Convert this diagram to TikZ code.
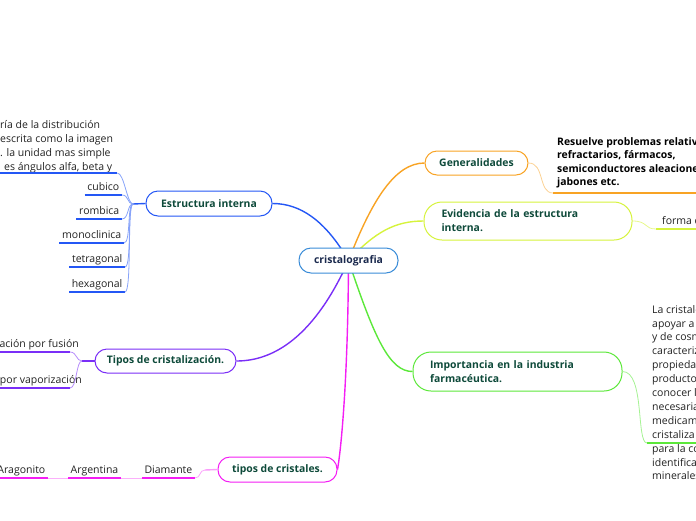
\documentclass[tikz,border=0pt]{standalone}
\usepackage{fontspec}
\setmainfont{Open Sans}
\usetikzlibrary{backgrounds}
\definecolor{tgreen}{HTML}{0E4A3A}
\definecolor{tnavy}{HTML}{1B2A4E}
\definecolor{cC}{HTML}{3A8CD8}
\definecolor{cE}{HTML}{2457F5}
\definecolor{cG}{HTML}{F8A324}
\definecolor{cV}{HTML}{D6F33C}
\definecolor{cI}{HTML}{5CE83A}
\definecolor{cT}{HTML}{7A2EF7}
\definecolor{cK}{HTML}{F41EF4}
\definecolor{leaftext}{HTML}{222222}
\tikzset{
 topic/.style={draw, line width=1pt, rounded corners=12pt, fill=white, text=tgreen,
   font=\bfseries\fontsize{10.4}{14}\selectfont, inner sep=0pt},
 branch/.style={line width=1.4pt},
 twig/.style={line width=0.8pt},
 uline/.style={line width=1.4pt},
 leaf/.style={font=\fontsize{10.5}{14}\selectfont, text=leaftext, inner xsep=2.5pt,
   inner ysep=4pt, text depth=0pt, anchor=south east},
 para/.style={font=\fontsize{10.5}{14}\selectfont, text=leaftext, inner sep=0pt, align=left},
}
\begin{document}
\begin{tikzpicture}[x=1pt,y=-1pt]
\useasboundingbox (0,0) rectangle (696,520);
\clip (0,0) rectangle (696,520);

% ---- topics
\node[topic, draw=cC, text=tnavy, minimum width=99pt, minimum height=25pt] (c) at (348.5,260.5) {cristalografia};
\node[topic, draw=cE, minimum width=126pt, minimum height=25pt] (e) at (209,203.5) {Estructura interna};
\node[topic, draw=cG, minimum width=103pt, minimum height=24pt] (g) at (476.5,163) {Generalidades};
\node[topic, draw=cV, rounded corners=18pt, text width=173pt, align=left, inner xsep=17.5pt, minimum height=38pt] (v) at (528,221) {Evidencia de la estructura\\interna.};
\node[topic, draw=cI, rounded corners=18pt, text width=175pt, align=left, inner xsep=17pt, minimum height=39pt] (i) at (517.5,371.5) {Importancia en la industria\\farmacéutica.};
\node[topic, draw=cT, minimum width=141pt, minimum height=24pt] (t) at (165.5,361) {Tipos de cristalización.};
\node[topic, draw=cK, minimum width=119pt, minimum height=25pt] (k) at (277.5,469.5) {tipos de cristales.};

% ---- main branches
\begin{scope}[on background layer]
\draw[branch, cE] (c.center) .. controls (325,220) and (300,203.5) .. (e.east);
\draw[branch, cG] (c.center) .. controls (372,200) and (395,163) .. (g.west);
\draw[branch, cV] (c.center) .. controls (375,232) and (395,221) .. (v.west);
\draw[branch, cI] (c.center) .. controls (375,340) and (390,371.5) .. (i.west);
\draw[branch, cT] (c.center) .. controls (315,335) and (275,361) .. (t.east);
\draw[branch, cK] (c.center) .. controls (348,380) and (341,450) .. (k.east);
\end{scope}

% ---- Estructura interna children
\coordinate (je) at (133,204);
\draw[uline, cE] (e.west) -- (je);
\node[para, anchor=south west, inner xsep=4pt] (e0) at (-4,173)
  {ría de la distribución\\escrita como la imagen\\. la unidad mas simple\\\hspace{4pt}es ángulos alfa, beta y};
\node[leaf] (e1) at (122,195) {cubico};
\node[leaf] (e2) at (122,219) {rombica};
\node[leaf] (e3) at (124,243) {monoclinica};
\node[leaf] (e4) at (125,267) {tetragonal};
\node[leaf] (e5) at (125,292) {hexagonal};
\foreach \n in {e0,e1,e2,e3,e4,e5}{
  \draw[uline, cE] (\n.south west) -- (\n.south east);
  \draw[twig, cE!55] (\n.south east) .. controls +(7,0) and +(-6,0) .. (je);
}

% ---- Tipos de cristalización children
\coordinate (jt) at (82,361);
\draw[uline, cT] (t.west) -- (jt);
\node[leaf, anchor=base east, inner sep=0pt] (t1) at (79,347) {ación por fusión};
\node[leaf, anchor=base east, inner sep=0pt] (t2) at (82,383) {por vaporización};
\coordinate (t1u) at (70,352);
\coordinate (t2u) at (70,388);
\draw[uline, cT] (t1u) -- ++(-75,0);
\draw[uline, cT] (t2u) -- ++(-75,0);
\draw[twig, cT!55] (t1u) .. controls +(7,0) and +(-6,0) .. (jt);
\draw[twig, cT!55] (t2u) .. controls +(7,0) and +(-6,0) .. (jt);

% ---- tipos de cristales children
\coordinate (jk) at (205,470);
\draw[uline, cK!45] (k.west) -- (jk);
\node[leaf] (k1) at (195,478) {Diamante};
\node[leaf] (k2) at (121,478) {Argentina};
\node[leaf] (k3) at (48,478) {Aragonito};
\foreach \n in {k1,k2,k3}{\draw[uline, cK] (\n.south west) -- (\n.south east);}
\draw[twig, cK!40] (k1.south east) .. controls +(6,0) and +(-6,0) .. (jk);
\draw[twig, cK!35] (k2.south east) -- (k1.south west);
\draw[twig, cK!35] (k3.south east) -- (k2.south west);

% ---- Generalidades child
\node[para, font=\bfseries\fontsize{10.4}{13.6}\selectfont, text=black, anchor=south west, inner xsep=4pt, inner ysep=4.5pt] (g1) at (553,193)
  {Resuelve problemas relativ\\refractarios, fármacos,\\semiconductores aleacione\\jabones etc.};
\draw[uline, cG] (g1.south west) -- ++(160,0);
\draw[twig, cG!50] (g.east) .. controls (545,163) and (538,193) .. (g1.south west);

% ---- Evidencia child
\node[leaf, anchor=south west, inner xsep=6pt] (v1) at (656,229) {forma d};
\draw[uline, cV] (v1.south west) -- ++(60,0);
\draw[twig, cV!60] (v.east) .. controls (648,221) and (644,229) .. (v1.south west);

% ---- Importancia child
\node[para, anchor=north west, font=\fontsize{10.5}{13.9}\selectfont] (i1) at (652,305)
  {La cristalo\\apoyar a\\y de cosm\\caracteriz\\propieda\\producto\\conocer l\\necesaria\\medicam\\cristaliza\\para la co\\identifica\\minerales};
\coordinate (iu) at (647,443);
\draw[uline, cI] (iu) -- ++(60,0);
\draw[twig, cI!55] (i.east) .. controls (645,371.5) and (636,443) .. (iu);
\end{tikzpicture}
\end{document}
